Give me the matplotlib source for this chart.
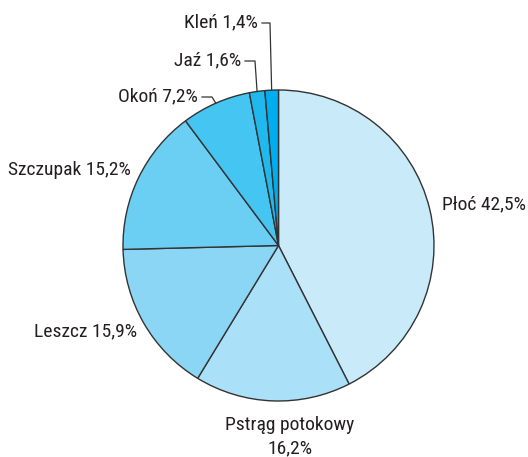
import numpy as np
import matplotlib
matplotlib.use('Agg')
import matplotlib.pyplot as plt

# udział gatunków ryb
gatunki = ['Płoć', 'Pstrąg potokowy', 'Leszcz', 'Szczupak', 'Okoń', 'Jaź', 'Kleń']
udzial = [42.5, 16.2, 15.9, 15.2, 7.2, 1.6, 1.4]
kolory = ['#c8eaf9', '#aae0f8', '#8cd6f5', '#6bcef3', '#45c5f1', '#20b9ee', '#00aeef']

plt.rcParams['font.family'] = ['Roboto Condensed', 'Archivo Narrow', 'DejaVu Sans']

W, H = 528, 457
fig = plt.figure(figsize=(W / 100, H / 100), dpi=100)
ax = fig.add_axes([0, 0, 1, 1])

cx, cy, r = 278.5, H - 245.5, 155.5
wedges, _ = ax.pie(udzial, colors=kolory, startangle=90, counterclock=False,
                   center=(cx, cy), radius=r,
                   wedgeprops=dict(edgecolor='#333333', linewidth=1.0))
ax.set_xlim(0, W)
ax.set_ylim(0, H)
ax.set_aspect('equal')
ax.axis('off')


def etykieta(i):
    return f"{gatunki[i]} {udzial[i]:.1f}%".replace('.', ',')


def brzeg(i):
    w = wedges[i]
    t = np.deg2rad((w.theta1 + w.theta2) / 2)
    return cx + r * np.cos(t), cy + r * np.sin(t)


fs = 14
col = '#231f20'
# etykiety bez linii
ax.text(442, H - 204, etykieta(0), fontsize=fs, color=col, ha='left', va='center')
ax.text(290, H - 425, 'Pstrąg potokowy', fontsize=fs, color=col, ha='center', va='center')
ax.text(290, H - 448, f"{udzial[1]:.1f}%".replace('.', ','), fontsize=fs, color=col,
        ha='center', va='center')
ax.text(137, H - 331, etykieta(2), fontsize=fs, color=col, ha='right', va='center')
ax.text(131, H - 170, etykieta(3), fontsize=fs, color=col, ha='right', va='center')

# etykiety z liniami odniesienia
for i, (tx, ty, kx) in zip([4, 5, 6], [(198, 96, 212), (241, 60, 255), (258, 22, 270)]):
    ax.text(tx, H - ty, etykieta(i), fontsize=fs, color=col, ha='right', va='center')
    ex, ey = brzeg(i)
    ax.plot([tx + 4, kx, ex], [H - ty - 1, H - ty - 1, ey], color='#333333', lw=0.9)

fig.savefig('out.png', dpi=100)
